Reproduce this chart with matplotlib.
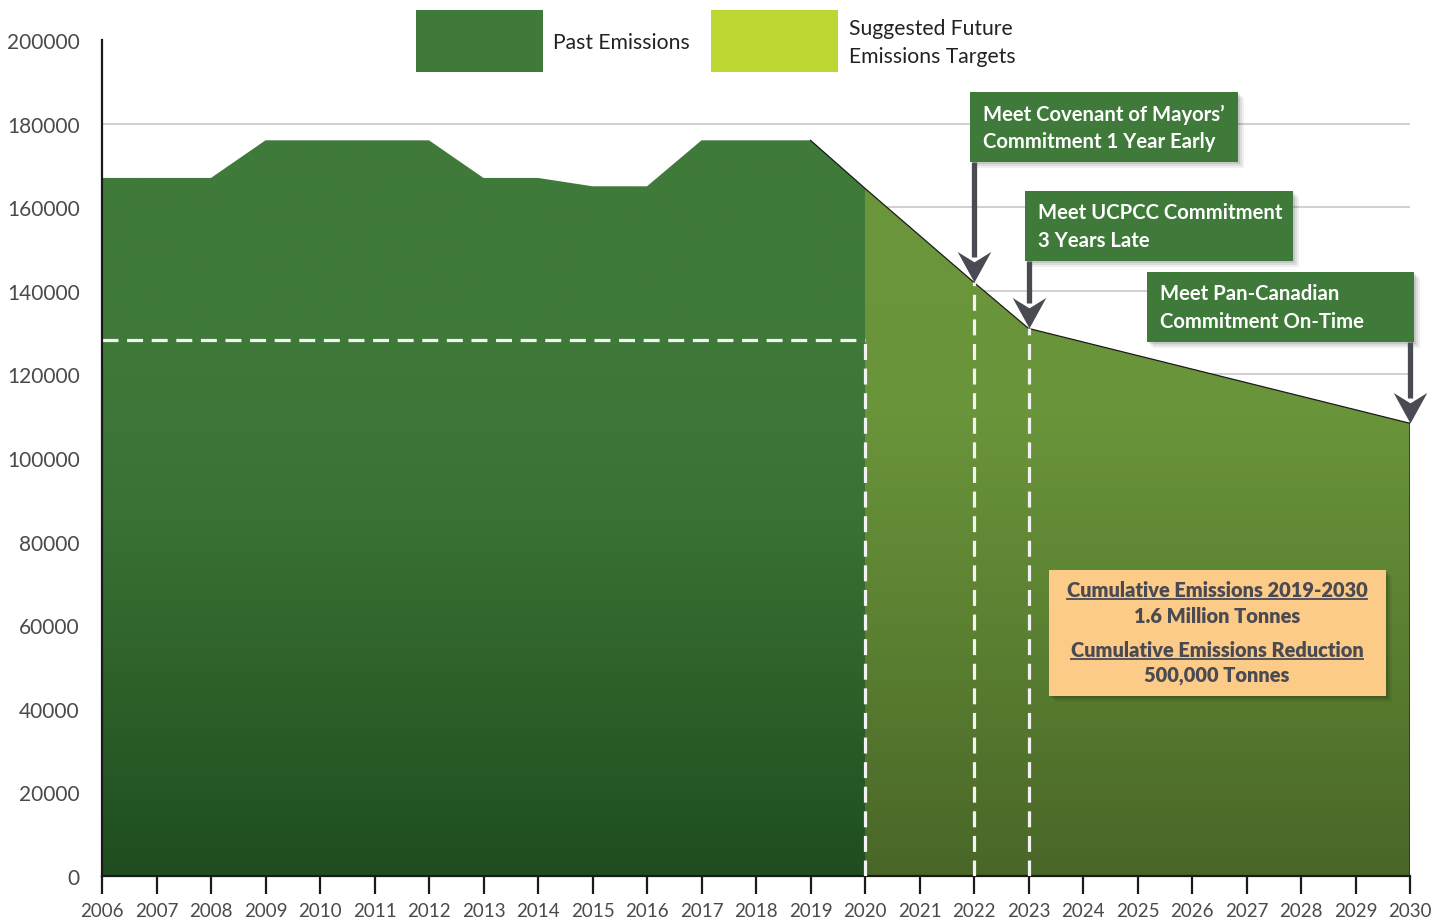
import matplotlib
matplotlib.use("Agg")
import matplotlib.pyplot as plt
import matplotlib.patches as mpatches
import matplotlib.transforms as mtransforms
from matplotlib.colors import LinearSegmentedColormap
from matplotlib.path import Path
import numpy as np

plt.rcParams['font.family'] = ['Lato', 'DejaVu Sans']

# data
past_years = [2006, 2007, 2008, 2009, 2010, 2011, 2012, 2013, 2014, 2015, 2016, 2017, 2018, 2019, 2020]
past_values = [167000, 167000, 167000, 176000, 176000, 176000, 176000, 167000, 167000, 165000, 165000,
               176000, 176000, 176000, 164500]
future_years = [2020, 2022, 2023, 2030]
future_values = [164500, 142000, 131000, 108300]
baseline = 128200
grid_values = [120000, 140000, 160000, 180000]
y_ticks = [0, 20000, 40000, 60000, 80000, 100000, 120000, 140000, 160000, 180000, 200000]
x_ticks = list(range(2006, 2031))

targets = [
    ("Meet Covenant of Mayors’\nCommitment 1 Year Early", 2022),
    ("Meet UCPCC Commitment\n3 Years Late", 2023),
    ("Meet Pan-Canadian\nCommitment On-Time", 2030),
]
summary = [
    ("Cumulative Emissions 2019-2030", True),
    ("1.6 Million Tonnes", False),
    ("Cumulative Emissions Reduction", True),
    ("500,000 Tonnes", False),
]

DARK = '#3f7a3a'
LIME = '#bdd632'
ARROW = '#4a4a52'
TXT = '#4a4a4a'

fig = plt.figure(figsize=(14.47, 9.2), dpi=100)
ax = fig.add_axes([102/1447, 43/920, 1308/1447, 836/920])


def grad_area(ax, xs, ys, colors, z):
    verts = [(xs[0], 0)] + list(zip(xs, ys)) + [(xs[-1], 0)]
    clip = mpatches.Polygon(verts, closed=True, facecolor='none', edgecolor='none',
                            transform=ax.transData)
    ax.add_patch(clip)
    cmap = LinearSegmentedColormap.from_list('g', colors)
    grad = np.linspace(0, 1, 256).reshape(-1, 1)
    im = ax.imshow(grad, cmap=cmap, aspect='auto', origin='lower',
                   extent=[xs[0], xs[-1], 0, max(ys)], zorder=z, interpolation='bilinear')
    im.set_clip_path(clip)
    return im


# gridlines behind
for g in grid_values:
    ax.plot([2006, 2030], [g, g], color='#c4c4c4', lw=1.1, zorder=1)

grad_area(ax, past_years, past_values, ['#1f4d1f', '#2d6029', '#3a7236', '#3f7a3a', '#3f7a3a'], 2)
grad_area(ax, future_years, future_values, ['#496627', '#5a7f31', '#6a943a', '#6c963b'], 2)

# thin outline on the falling part
ax.plot([past_years[-2], past_years[-1]] + future_years[1:], [past_values[-2], past_values[-1]] + future_values[1:],
        color='#1a1a1a', lw=0.9, zorder=3)
ax.plot([future_years[-1], future_years[-1]], [0, future_values[-1]], color='#333333', lw=1.2, zorder=3)

# dashed white guides
dash = (0, (5, 2.7))
ax.plot([2006, 2020], [baseline, baseline], color='#f2f2f2', lw=2.3, ls=dash, zorder=4)
ax.plot([2020, 2020], [0, baseline], color='#f2f2f2', lw=2.3, ls=dash, zorder=4)
for yr in (2022, 2023):
    v = future_values[future_years.index(yr)]
    ax.plot([yr, yr], [0, v], color='#f2f2f2', lw=2.3, ls=dash, zorder=4)

ax.set_xlim(2006, 2030)
ax.set_ylim(0, 200000)
for s in ('top', 'right'):
    ax.spines[s].set_visible(False)
ax.spines['left'].set_linewidth(1.6)
ax.spines['bottom'].set_linewidth(1.6)
ax.spines['left'].set_color('#1a1a1a')
ax.spines['bottom'].set_color('#1a1a1a')
ax.spines['left'].set_zorder(5)
ax.set_xticks(x_ticks)
ax.set_xticklabels([str(t) for t in x_ticks], fontsize=13.5, color=TXT)
ax.set_yticks(y_ticks)
ax.set_yticklabels([str(t) for t in y_ticks], fontsize=15, color=TXT)
ax.tick_params(axis='x', length=13, width=1.6, color='#1a1a1a', pad=5.5, direction='out')
ax.tick_params(axis='y', length=0, pad=16)

# annotation boxes (pixel layout converted to data)
def px2data(px, py):
    return 2006 + (px - 102) / 54.5, (877 - py) / 836 * 200000

box_px = [(970, 93, 1238, 163), (1025, 192, 1293, 262), (1147, 273, 1414, 343)]

head = Path([(0, 0), (-0.55, 1.0), (0, 0.66), (0.55, 1.0), (0, 0)],
            [Path.MOVETO, Path.LINETO, Path.LINETO, Path.LINETO, Path.CLOSEPOLY])

for (label, yr), (x0p, y0p, x1p, y1p) in zip(targets, box_px):
    x0, y1 = px2data(x0p, y0p)
    x1, y0 = px2data(x1p, y1p)
    for k, a in enumerate([0.10, 0.08, 0.06]):
        off = mtransforms.offset_copy(ax.transData, fig, x=2 + 2 * k, y=-(2 + 2 * k), units='dots')
        ax.add_patch(mpatches.Rectangle((x0, y0), x1 - x0, y1 - y0, facecolor='black', alpha=a,
                                        edgecolor='none', transform=off, zorder=6, clip_on=False))
    ax.add_patch(mpatches.Rectangle((x0, y0), x1 - x0, y1 - y0, facecolor=DARK, edgecolor='none',
                                    zorder=7, clip_on=False))
    tx, _ = px2data(x0p + 13, 0)
    ax.text(tx, (y0 + y1) / 2, label, color='white', fontsize=14.6, fontweight='bold',
            va='center', ha='left', linespacing=1.45, zorder=8, clip_on=False)
    v = future_values[future_years.index(yr)]
    ax.plot([yr, yr], [y0, v + 6000], color=ARROW, lw=3.8, zorder=6, solid_capstyle='butt',
            clip_on=False)
    ax.plot([yr], [v], marker=head, markersize=44, color=ARROW, markeredgewidth=0, zorder=6,
            clip_on=False)

# summary box
sx0, sy1 = px2data(1049, 571)
sx1, sy0 = px2data(1386, 697)
for k, a in enumerate([0.12, 0.08, 0.05]):
    off = mtransforms.offset_copy(ax.transData, fig, x=2 + 2 * k, y=-(2 + 2 * k), units='dots')
    ax.add_patch(mpatches.Rectangle((sx0, sy0), sx1 - sx0, sy1 - sy0, facecolor='black', alpha=a,
                                    edgecolor='none', transform=off, zorder=6))
ax.add_patch(mpatches.Rectangle((sx0, sy0), sx1 - sx0, sy1 - sy0, facecolor='#fdcb88',
                                edgecolor='none', zorder=7))
line_py = [591, 617, 651, 676]
sum_texts = []
cx, _ = px2data(1217, 0)
for (txt, ul), py in zip(summary, line_py):
    _, ty = px2data(0, py)
    t = ax.text(cx, ty, txt, color=ARROW, fontsize=14.4, fontweight='heavy', ha='center', va='center',
                zorder=8)
    sum_texts.append((t, ul))

# legend at the top
fig.patches.append(mpatches.Rectangle((416/1447, 1 - 73/920), 127/1447, 62/920, facecolor=DARK,
                                      edgecolor='none', transform=fig.transFigure))
fig.patches.append(mpatches.Rectangle((711/1447, 1 - 73/920), 127/1447, 62/920, facecolor=LIME,
                                      edgecolor='none', transform=fig.transFigure))
fig.text(553/1447, 1 - 43/920, "Past Emissions", fontsize=15.2, color='#222222', va='center', ha='left')
fig.text(849/1447, 1 - 43/920, "Suggested Future\nEmissions Targets", fontsize=15.2, color='#222222',
         va='center', ha='left', linespacing=1.55)

# underline the headings
fig.canvas.draw()
r = fig.canvas.get_renderer()
for t, ul in sum_texts:
    if ul:
        bb = t.get_window_extent(r)
        yline = bb.y0 + 1
        fig.add_artist(plt.Line2D([bb.x0, bb.x1], [yline, yline], color=ARROW, lw=1.3,
                                  transform=mtransforms.IdentityTransform(), zorder=9))

fig.savefig('out.png', dpi=100)
